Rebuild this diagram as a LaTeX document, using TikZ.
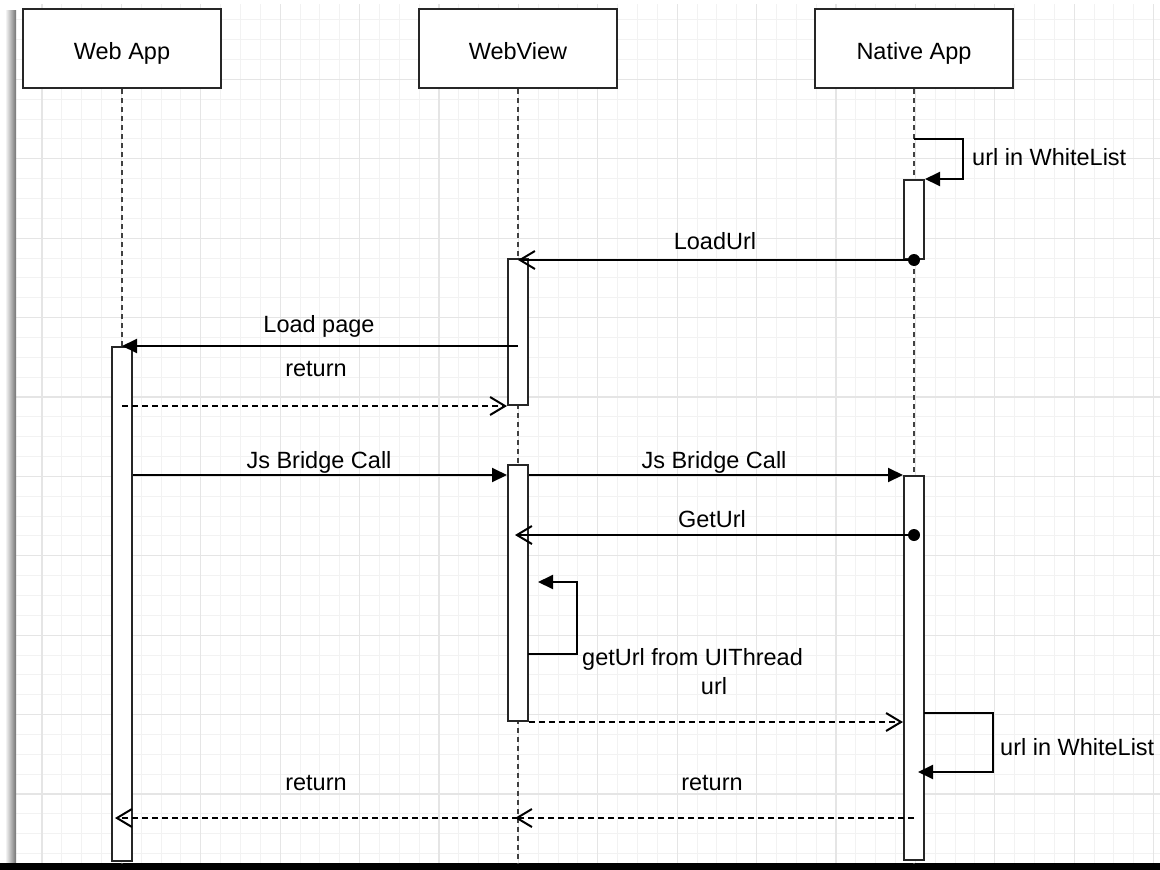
\documentclass[tikz,border=0pt]{standalone}
\usepackage{fontspec}
\setmainfont{Liberation Sans}
\usetikzlibrary{arrows.meta}

\newlength{\du}
\setlength{\du}{1pt}

\definecolor{gridminor}{rgb}{0.950,0.950,0.950}
\definecolor{gridmajor}{rgb}{0.900,0.900,0.900}
\definecolor{lifecolor}{rgb}{0.250,0.250,0.250}
\definecolor{edgecolor}{rgb}{0.150,0.150,0.150}

\tikzset{
  headbox/.style={draw=edgecolor, line width=2\du, fill=white, minimum width=198\du,
    minimum height=79\du, inner sep=0pt, text height=24\du, text depth=3\du,
    font=\fontsize{23.5}{28}\selectfont},
  actbar/.style={draw=edgecolor, line width=2\du, fill=white, minimum width=20\du,
    inner sep=0pt, anchor=north},
  lifeline/.style={draw=lifecolor, line width=2\du, dash pattern=on 5\du off 4\du},
  msgcall/.style={draw=black, line width=2\du, -{Triangle[length=15pt,width=14pt]}},
  msgopen/.style={draw=black, line width=2\du, -{Straight Barb[length=15pt,width=18pt]}},
  msgreturn/.style={msgopen, dash pattern=on 6\du off 4\du},
  msglabel/.style={font=\fontsize{23.5}{28}\selectfont, inner sep=0pt,
    text height=18\du, text depth=2\du},
}

\begin{document}
\begin{tikzpicture}
\pgftransformxscale{1.000000}
\pgftransformyscale{-1.000000}
\useasboundingbox (0\du,0\du) rectangle (1160\du,870\du);
\fill[white] (0\du,0\du) rectangle (1160\du,870\du);
% grid
\foreach \gx in {42,61.85,...,1160}
  \draw[gridminor, line width=1\du] (\gx\du,4\du) -- (\gx\du,863\du);
\foreach \gy in {19.85,39.7,...,860}
  \draw[gridminor, line width=1\du] (16\du,\gy\du) -- (1160\du,\gy\du);
\foreach \gx in {42,121.4,...,1160}
  \draw[gridmajor, line width=1.3\du] (\gx\du,4\du) -- (\gx\du,863\du);
\foreach \gy in {79.4,158.8,...,860}
  \draw[gridmajor, line width=1.3\du] (16\du,\gy\du) -- (1160\du,\gy\du);
% window edges
\shade[left color=white, right color=black!55] (5\du,10\du) rectangle (16\du,863\du);
\fill[black] (0\du,863\du) rectangle (1160\du,870\du);

% heads and lifelines
\node[headbox] (webapp) at (122\du,48.5\du) {Web App};
\node[headbox] (webview) at (518\du,48.5\du) {WebView};
\node[headbox] (nativeapp) at (914\du,48.5\du) {Native App};
\draw[lifeline] (webapp.south) -- ++(0,775\du);
\draw[lifeline] (webview.south) -- ++(0,775\du);
\draw[lifeline] (nativeapp.south) -- ++(0,775\du);

% activation bars
\node[actbar, minimum height=79\du] (nabarA) at (914\du,179\du) {};
\node[actbar, minimum height=146\du] (wvbarA) at (518\du,258\du) {};
\node[actbar, minimum height=514\du] (wabar) at (122\du,346\du) {};
\node[actbar, minimum height=256\du] (wvbarB) at (518\du,464\du) {};
\node[actbar, minimum height=384\du] (nabarB) at (914\du,475\du) {};

% url in WhiteList
\coordinate (loopAs) at (914\du,139\du);
\draw[msgcall] (loopAs) -- ++(49\du,0) |- (nabarA.north east);
\node[msglabel, anchor=west] (wlistA) at (972\du,157\du) {url in WhiteList};

% LoadUrl
\draw[msgopen] (nabarA.south) -- (wvbarA.north |- nabarA.south);
\fill (nabarA.south) circle (6\du);
\node[msglabel] (loadurl) at (715\du,241\du) {LoadUrl};

% Load page
\draw[msgcall] (wvbarA.north |- wabar.north) -- (wabar.north);
\node[msglabel] (loadpage) at (319\du,324\du) {Load page};

% return
\draw[msgreturn] (wabar.north |- wvbarA.south west) -- (wvbarA.south west);
\node[msglabel] (returnA) at (316\du,368\du) {return};

% Js Bridge Call
\draw[msgcall] (wabar.east |- nabarB.north) -- (wvbarB.west |- nabarB.north);
\node[msglabel] (bridgeA) at (319\du,460\du) {Js Bridge Call};
\draw[msgcall] (wvbarB.east |- nabarB.north) -- (nabarB.north west);
\node[msglabel] (bridgeB) at (714\du,460\du) {Js Bridge Call};

% GetUrl
\coordinate (geturlS) at (914\du,535\du);
\coordinate (geturlE) at (515\du,535\du);
\draw[msgopen] (geturlS) -- (geturlE);
\fill (geturlS) circle (6\du);
\node[msglabel] (geturl) at (712\du,519\du) {GetUrl};

% getUrl from UIThread
\coordinate (loopBs) at (528\du,654\du);
\coordinate (loopBe) at (538\du,582\du);
\draw[msgcall] (loopBs) -- ++(49\du,0) |- (loopBe);
\node[msglabel, anchor=west] (uithread) at (582\du,657\du) {getUrl from UIThread};

% url
\draw[msgreturn] (wvbarB.south east) -- (nabarB.west |- wvbarB.south east);
\node[msglabel] (urlback) at (714\du,686\du) {url};

% url in WhiteList
\coordinate (loopCs) at (924\du,713\du);
\coordinate (loopCe) at (918\du,772\du);
\draw[msgcall] (loopCs) -- ++(69\du,0) |- (loopCe);
\node[msglabel, anchor=west] (wlistB) at (1000\du,747\du) {url in WhiteList};

% return
\coordinate (retNs) at (914\du,818\du);
\coordinate (retWv) at (515\du,818\du);
\coordinate (retWa) at (115\du,818\du);
\draw[msgreturn] (retNs) -- (retWv);
\draw[msgreturn] (webview.south |- retNs) -- (retWa);
\node[msglabel] (returnB) at (712\du,782\du) {return};
\node[msglabel] (returnC) at (316\du,782\du) {return};
\end{tikzpicture}
\end{document}
